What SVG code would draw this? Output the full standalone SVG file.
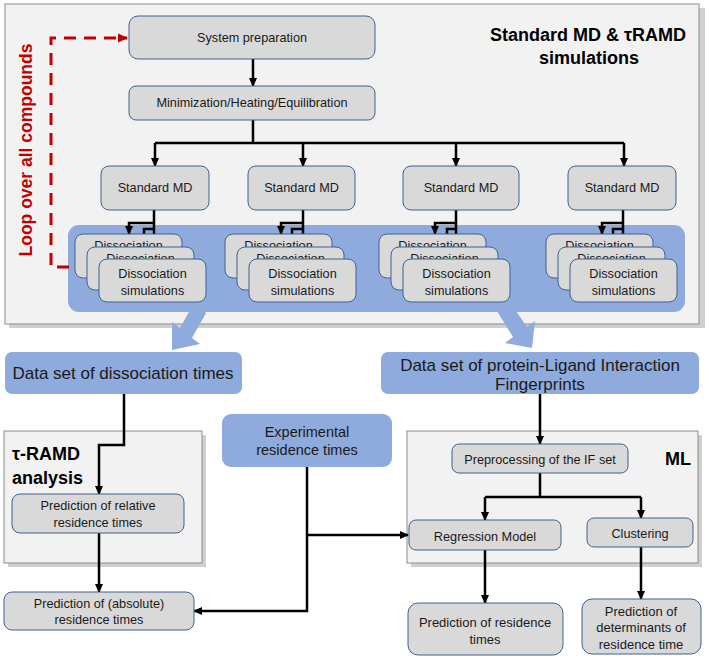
<svg xmlns="http://www.w3.org/2000/svg" width="709" height="662" viewBox="0 0 709 662">
<defs>
<marker id="ah" markerUnits="userSpaceOnUse" markerWidth="9" markerHeight="9" viewBox="0 0 9 9" refX="8" refY="4.5" orient="auto"><path d="M0,0.5 L9,4.5 L0,8.5 z" fill="#000"/></marker>
<marker id="ahr" markerUnits="userSpaceOnUse" markerWidth="10" markerHeight="10" viewBox="0 0 10 10" refX="9" refY="5" orient="auto"><path d="M0,0.5 L10,5 L0,9.5 z" fill="#c00000"/></marker>
</defs>
<style>
text{font-family:"Liberation Sans",Arial,sans-serif;fill:#1a1a1a}
.panel{fill:#f2f2f2;stroke:#8c8c8c;stroke-width:1}
.shadow{fill:#b0b0b0;opacity:0.6}
.box{fill:#d9d9d9;stroke:#41608f;stroke-width:1}
.blue{fill:#8faadc}
.t{font-size:12.7px;text-anchor:middle}
.tb{font-size:17px;text-anchor:middle}
.te{font-size:14.5px;text-anchor:middle}
.h{font-size:18px;font-weight:bold;fill:#000}
.c{fill:none;stroke:#000;stroke-width:2.5}
.ca{fill:none;stroke:#000;stroke-width:2.5;marker-end:url(#ah)}
</style>

<g id="panel-md">
<rect class="shadow" x="9" y="8" width="696" height="320"/>
<rect class="panel" x="5" y="4" width="694" height="320"/>
<text class="h" x="588" y="41" text-anchor="middle">Standard MD &amp; τRAMD</text>
<text class="h" x="589" y="64" text-anchor="middle">simulations</text>
</g>

<g id="band">
<rect class="blue" x="68" y="225" width="617" height="87" rx="11"/>
</g>

<g id="panel-tramd">
<rect class="shadow" x="8" y="435" width="198" height="132"/>
<rect class="panel" x="4" y="431" width="198" height="132"/>
<text class="h" x="12" y="460">τ-RAMD</text>
<text class="h" x="12" y="484">analysis</text>
</g>

<g id="panel-ml">
<rect class="shadow" x="411" y="435" width="291" height="132"/>
<rect class="panel" x="407" y="431" width="291" height="132"/>
<text class="h" x="691" y="465" text-anchor="end">ML</text>
</g>

<g id="big-arrows">
<polygon class="blue" points="206,313 194,303 180,328 172,322 172,350 200,344 192,338"/>
<polygon class="blue" points="509,301 497,311 513,337 505,343 532,348 535,321 527,327"/>
</g>

<g id="connectors">
<path class="ca" d="M253,59 V86"/>
<path class="c" d="M253,120 V143"/>
<path class="c" d="M155,143 H624"/>
<path class="ca" d="M155,143 V166"/>
<path class="ca" d="M303,143 V166"/>
<path class="ca" d="M456,143 V166"/>
<path class="ca" d="M624,143 V166"/>
<path class="ca" d="M154,210 V259"/>
<path class="ca" d="M154,223 H129 V234"/>
<path class="ca" d="M154,229 H144 V247"/>
<path class="ca" d="M303,210 V259"/>
<path class="ca" d="M303,223 H281 V234"/>
<path class="ca" d="M303,229 H292 V247"/>
<path class="ca" d="M456,210 V259"/>
<path class="ca" d="M456,223 H435 V234"/>
<path class="ca" d="M456,229 H447 V247"/>
<path class="ca" d="M623,210 V259"/>
<path class="ca" d="M623,223 H602 V234"/>
<path class="ca" d="M623,229 H613 V247"/>
<path class="ca" d="M124,394 V445 H99 V494"/>
<path class="ca" d="M99,533 V592"/>
<path class="ca" d="M307,467 V611 H194"/>
<path class="ca" d="M307,535 H408"/>
<path class="ca" d="M540,394 V444"/>
<path class="c" d="M540,473 V497"/>
<path class="c" d="M485,497 H641"/>
<path class="ca" d="M485,497 V520"/>
<path class="ca" d="M641,497 V518"/>
<path class="ca" d="M485,550 V603"/>
<path class="ca" d="M641,547 V599"/>
<path d="M69,267 H51 V38 H127" fill="none" stroke="#c00000" stroke-width="3" stroke-dasharray="12 8" marker-end="url(#ahr)"/>
</g>

<g id="loop-label">
<text transform="translate(32,150) rotate(-90)" text-anchor="middle" style="font-size:17.5px;font-weight:bold;fill:#c00000">Loop over all compounds</text>
</g>

<g id="sysprep">
<rect class="box" x="129" y="16" width="246" height="43" rx="9"/>
<text class="t" x="252" y="42">System preparation</text>
</g>
<g id="minheat">
<rect class="box" x="129" y="86" width="246" height="34" rx="7"/>
<text class="t" x="252" y="107">Minimization/Heating/Equilibration</text>
</g>

<g id="md1"><rect class="box" x="101" y="166" width="108" height="44" rx="8"/><text class="t" x="155" y="192">Standard MD</text></g>
<g id="md2"><rect class="box" x="248" y="166" width="107" height="44" rx="8"/><text class="t" x="301.5" y="192">Standard MD</text></g>
<g id="md3"><rect class="box" x="403" y="166" width="116" height="44" rx="8"/><text class="t" x="461" y="192">Standard MD</text></g>
<g id="md4"><rect class="box" x="568" y="166" width="108" height="44" rx="8"/><text class="t" x="622" y="192">Standard MD</text></g>

<g id="diss1">
<rect class="box" x="75" y="234" width="107" height="44" rx="8"/><text class="t" x="128.5" y="250">Dissociation</text>
<rect class="box" x="87" y="247" width="107" height="43" rx="8"/><text class="t" x="140.5" y="263">Dissociation</text>
<rect class="box" x="99" y="259" width="107" height="43" rx="8"/><text class="t" x="152.5" y="278">Dissociation</text><text class="t" x="152.5" y="295">simulations</text>
</g>
<g id="diss2">
<rect class="box" x="225" y="234" width="107" height="44" rx="8"/><text class="t" x="278.5" y="250">Dissociation</text>
<rect class="box" x="237" y="247" width="107" height="43" rx="8"/><text class="t" x="290.5" y="263">Dissociation</text>
<rect class="box" x="249" y="259" width="107" height="43" rx="8"/><text class="t" x="302.5" y="278">Dissociation</text><text class="t" x="302.5" y="295">simulations</text>
</g>
<g id="diss3">
<rect class="box" x="379" y="234" width="107" height="44" rx="8"/><text class="t" x="432.5" y="250">Dissociation</text>
<rect class="box" x="391" y="247" width="107" height="43" rx="8"/><text class="t" x="444.5" y="263">Dissociation</text>
<rect class="box" x="403" y="259" width="107" height="43" rx="8"/><text class="t" x="456.5" y="278">Dissociation</text><text class="t" x="456.5" y="295">simulations</text>
</g>
<g id="diss4">
<rect class="box" x="546" y="234" width="107" height="44" rx="8"/><text class="t" x="599.5" y="250">Dissociation</text>
<rect class="box" x="558" y="247" width="107" height="43" rx="8"/><text class="t" x="611.5" y="263">Dissociation</text>
<rect class="box" x="570" y="259" width="107" height="43" rx="8"/><text class="t" x="623.5" y="278">Dissociation</text><text class="t" x="623.5" y="295">simulations</text>
</g>

<g id="ds-diss">
<rect class="blue" x="5" y="352" width="237" height="42" rx="7"/>
<text class="tb" x="123" y="379">Data set of dissociation times</text>
</g>
<g id="ds-plif">
<rect class="blue" x="381" y="352" width="318" height="42" rx="7"/>
<text class="tb" x="540" y="371">Data set of protein-Ligand Interaction</text>
<text class="tb" x="540" y="390">Fingerprints</text>
</g>
<g id="exp">
<rect class="blue" x="222" y="414" width="170" height="53" rx="9"/>
<text class="te" x="307" y="437">Experimental</text>
<text class="te" x="307" y="455">residence times</text>
</g>

<g id="pred-rel">
<rect class="box" x="12" y="494" width="172" height="39" rx="8"/>
<text class="t" x="98" y="510">Prediction of relative</text>
<text class="t" x="98" y="527">residence times</text>
</g>
<g id="pred-abs">
<rect class="box" x="4" y="592" width="190" height="38" rx="8"/>
<text class="t" x="99" y="608">Prediction of (absolute)</text>
<text class="t" x="99" y="624">residence times</text>
</g>
<g id="preproc">
<rect class="box" x="452" y="444" width="176" height="29" rx="7"/>
<text class="t" x="540" y="464">Preprocessing of the IF set</text>
</g>
<g id="regr">
<rect class="box" x="409" y="520" width="152" height="30" rx="7"/>
<text class="t" x="485" y="541">Regression Model</text>
</g>
<g id="clust">
<rect class="box" x="587" y="518" width="106" height="29" rx="7"/>
<text class="t" x="640" y="538">Clustering</text>
</g>
<g id="pred-rt">
<rect class="box" x="408" y="603" width="155" height="52" rx="10"/>
<text class="t" x="485" y="627" style="font-size:13px">Prediction of residence</text>
<text class="t" x="485" y="644" style="font-size:13px">times</text>
</g>
<g id="pred-det">
<rect class="box" x="582" y="599" width="119" height="55" rx="10"/>
<text class="t" x="641" y="616" style="font-size:13px">Prediction of</text>
<text class="t" x="641" y="632" style="font-size:13px">determinants of</text>
<text class="t" x="641" y="649" style="font-size:13px">residence time</text>
</g>
</svg>
